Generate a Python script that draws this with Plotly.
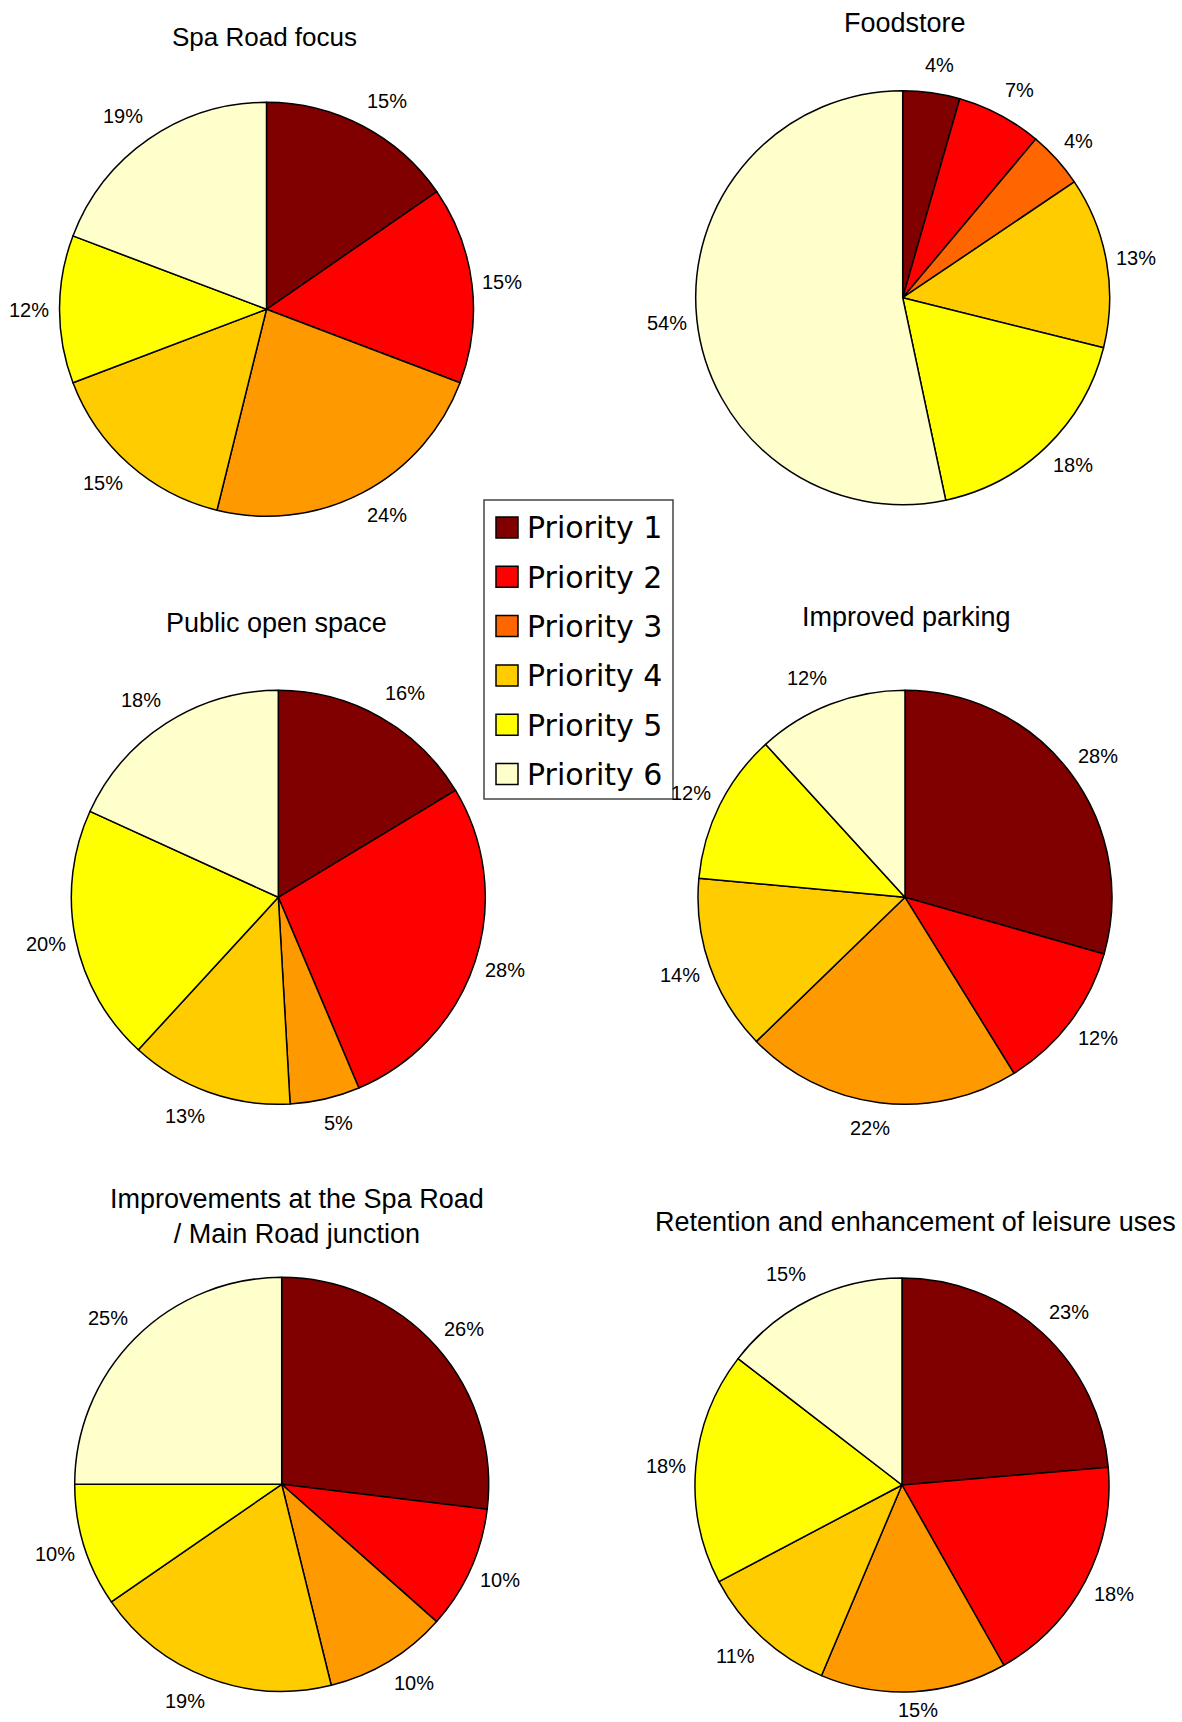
import math
import plotly.graph_objects as go

# ---------------- data ----------------
categories = ["Priority 1", "Priority 2", "Priority 3", "Priority 4", "Priority 5", "Priority 6"]

# slice sizes (responses)
spa_road_focus = [4, 4, 6, 4, 3, 5]
foodstore = [2, 3, 2, 6, 8, 24]
public_open_space = [9, 15, 3, 7, 11, 10]
improved_parking = [15, 6, 11, 7, 6, 6]
junction_improvements = [14, 5, 5, 10, 5, 13]
leisure_uses = [13, 10, 8, 6, 10, 8]

# percentage labels as printed on each pie
spa_road_focus_pct = [15, 15, 24, 15, 12, 19]
foodstore_pct = [4, 7, 4, 13, 18, 54]
public_open_space_pct = [16, 28, 5, 13, 20, 18]
improved_parking_pct = [28, 12, 22, 14, 12, 12]
junction_improvements_pct = [26, 10, 10, 19, 10, 25]
leisure_uses_pct = [23, 18, 15, 11, 18, 15]

chart_titles = [
    "Spa Road focus",
    "Foodstore",
    "Public open space",
    "Improved parking",
    "Improvements at the Spa Road<br>/ Main Road junction",
    "Retention and enhancement of leisure uses",
]

# ---------------- styles ----------------
W, H = 1182, 1722
colors_main = ["#800000", "#FF0000", "#FF9900", "#FFCC00", "#FFFF00", "#FFFFCC"]
colors_alt = ["#800000", "#FF0000", "#FF6600", "#FFCC00", "#FFFF00", "#FFFFCC"]
legend_colors = colors_alt
FONT = "Liberation Sans, Arial, sans-serif"
LABEL_SIZE = 20

series = [spa_road_focus, foodstore, public_open_space, improved_parking,
          junction_improvements, leisure_uses]
labels_pct = [spa_road_focus_pct, foodstore_pct, public_open_space_pct,
              improved_parking_pct, junction_improvements_pct, leisure_uses_pct]
palettes = [colors_main, colors_alt, colors_main, colors_main, colors_main, colors_main]

# pixel layout: pie centre (x, y) and radius, label ellipse, title centre
R = 207
LABEL_A = 217        # horizontal reach of label anchor
LABEL_B_TOP = 236    # vertical reach (upper half)
LABEL_B_BOT = 231    # vertical reach (lower half)
centres = [(266.5, 309.3), (902.7, 297.7), (278.3, 897.3),
           (905.0, 897.3), (281.7, 1484.3), (902.0, 1485.0)]
title_pos = [(264, 37), (905, 23), (276, 623), (907, 617), (297, 1216), (915, 1222)]
title_sizes = [26, 27, 27, 27, 27, 27]


def px_x(x):
    return x / W


def px_y(y):
    return 1 - y / H


def text_width(t, size):
    return size * sum(0.889 if ch == "%" else 0.556 for ch in t)


fig = go.Figure()
annotations = []

for vals, pcts, pal, (cx, cy) in zip(series, labels_pct, palettes, centres):
    fig.add_trace(go.Pie(
        labels=categories,
        values=vals,
        customdata=pcts,
        textinfo="none",
        sort=False,
        direction="clockwise",
        rotation=0,
        marker=dict(colors=pal, line=dict(color="black", width=1.5)),
        domain=dict(x=[px_x(cx - R), px_x(cx + R)], y=[px_y(cy + R), px_y(cy - R)]),
        showlegend=False,
        hovertemplate="%{label}: %{customdata}%<extra></extra>",
    ))
    # percentage labels placed around the pie at each slice's mid-angle
    total = sum(vals)
    cum = 0
    for v, p in zip(vals, pcts):
        mid = (cum + v / 2) / total * 2 * math.pi
        cum += v
        s, c = math.sin(mid), math.cos(mid)
        txt = f"{p}%"
        half_w = text_width(txt, LABEL_SIZE) / 2
        lx = cx + LABEL_A * s + math.copysign(half_w * min(1.0, 3.3 * abs(s)), s)
        b = LABEL_B_TOP if c > 0 else LABEL_B_BOT
        ly = min(cy - b * c + 1, H - 12)
        annotations.append(dict(
            text=txt, x=px_x(lx), y=px_y(ly), xref="paper", yref="paper",
            xanchor="center", yanchor="middle", showarrow=False,
            font=dict(family=FONT, size=LABEL_SIZE, color="black"),
        ))

for t, (tx, ty), fs in zip(chart_titles, title_pos, title_sizes):
    annotations.append(dict(
        text=t, x=px_x(tx), y=px_y(ty), xref="paper", yref="paper",
        xanchor="center", yanchor="middle", showarrow=False,
        font=dict(family=FONT, size=fs, color="black"),
    ))

# custom legend (drawn on top, like the reference)
shapes = [dict(type="rect", xref="paper", yref="paper", layer="above",
               x0=px_x(484), x1=px_x(673), y0=px_y(799), y1=px_y(500),
               line=dict(color="#444444", width=1.5), fillcolor="white")]
row_h = 49.3
for i, (lab, col) in enumerate(zip(categories, legend_colors)):
    top = 517 + row_h * i
    shapes.append(dict(type="rect", xref="paper", yref="paper", layer="above",
                       x0=px_x(496), x1=px_x(518), y0=px_y(top + 21), y1=px_y(top),
                       line=dict(color="black", width=1.5), fillcolor=col))
    annotations.append(dict(
        text=lab, x=px_x(525), y=px_y(top + 11), xref="paper", yref="paper",
        xanchor="left", yanchor="middle", showarrow=False,
        font=dict(family="DejaVu Sans, sans-serif", size=30, color="black"),
    ))

fig.update_layout(
    width=W, height=H, autosize=False,
    margin=dict(l=0, r=0, t=0, b=0),
    paper_bgcolor="white", plot_bgcolor="white",
    shapes=shapes, annotations=annotations,
)

fig.write_html("out.html")
